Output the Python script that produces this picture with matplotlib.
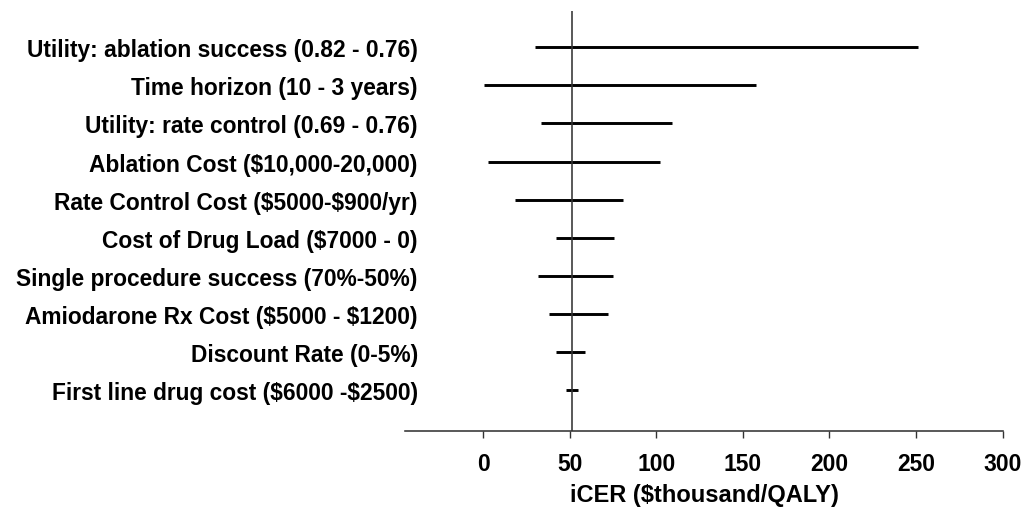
import matplotlib
matplotlib.use("Agg")
import matplotlib.pyplot as plt

labels = [
    "Utility: ablation success (0.82 - 0.76)",
    "Time horizon (10 - 3 years)",
    "Utility: rate control (0.69 - 0.76)",
    "Ablation Cost ($10,000-20,000)",
    "Rate Control Cost ($5000-$900/yr)",
    "Cost of Drug Load ($7000 - 0)",
    "Single procedure success (70%-50%)",
    "Amiodarone Rx Cost ($5000 - $1200)",
    "Discount Rate (0-5%)",
    "First line drug cost ($6000 -$2500)",
]
low = [30, 0.5, 33.5, 3, 18.5, 42, 31.5, 38, 42, 48]
high = [251, 157.5, 109, 102, 80.5, 75.5, 75, 72, 58.5, 54.5]
base = 51
xticks = [0, 50, 100, 150, 200, 250, 300]

plt.rcParams['text.parse_math'] = False
plt.rcParams['font.family'] = ['Liberation Sans', 'DejaVu Sans']
fig = plt.figure(figsize=(10.21, 5.10), dpi=100)
ax = fig.add_axes([0.397, 0.153, 0.585, 0.823])

n = len(labels)
ys = list(range(n, 0, -1))
ax.hlines(ys, low, high, color='black', linewidth=2.1)
ax.axvline(base, color='#333333', linewidth=1.15)

ax.set_xlim(-45, 300)
ax.set_ylim(-0.08, 10.95)
ax.set_xticks(xticks)
ax.set_xticklabels([str(t) for t in xticks], fontsize=16.5, fontweight='bold')
ax.set_yticks(ys)
ax.set_yticklabels(labels, fontsize=16.4, fontweight='bold')
ax.tick_params(axis='y', length=0, pad=-9)
ax.tick_params(axis='x', direction='out', length=5, width=1, pad=10, color='#333333')
for s in ['left', 'right', 'top']:
    ax.spines[s].set_visible(False)
ax.spines['bottom'].set_color('#333333')
ax.spines['bottom'].set_linewidth(1.15)
ax.set_xlabel("iCER ($thousand/QALY)", fontsize=17, fontweight='bold', labelpad=6)

fig.savefig("out.png", dpi=100)
